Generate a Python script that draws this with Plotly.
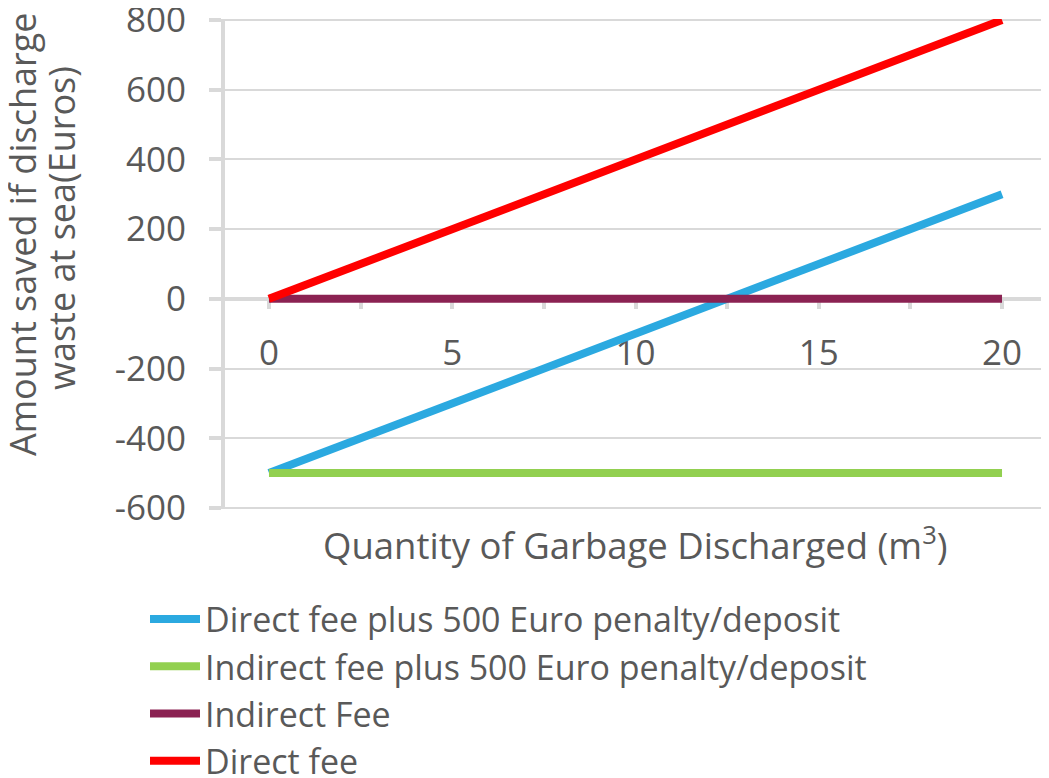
import plotly.graph_objects as go

# Data
quantity = [0, 20]
direct_fee_penalty = [-500, 300]
indirect_fee_penalty = [-500, -500]
indirect_fee = [0, 0]
direct_fee = [0, 800]

series_names = [
    "Direct fee plus 500 Euro penalty/deposit",
    "Indirect fee plus 500 Euro penalty/deposit",
    "Indirect Fee",
    "Direct fee",
]
series_values = [direct_fee_penalty, indirect_fee_penalty, indirect_fee, direct_fee]
series_colors = ["#2BA9E0", "#92D050", "#8B2252", "#FF0000"]

y_tick_values = [-600, -400, -200, 0, 200, 400, 600, 800]
y_tick_labels = ["-600", "-400", "-200", "0", "200", "400", "600", "800"]
x_tick_values = [0, 5, 10, 15, 20]
x_tick_labels = ["0", "5", "10", "15", "20"]

FONT = "Open Sans"
TXT = "#595959"
AX = "#D9D9D9"

W, H = 1041, 770
L, R, T, B = 217, 3, 11, 269
PW, PH = W - L - R, H - T - B


def px(xf):
    return (xf - L) / PW


def py(yf):
    return (H - B - yf) / PH


fig = go.Figure()
for name, vals, col in zip(series_names, series_values, series_colors):
    fig.add_trace(go.Scatter(x=quantity, y=vals, mode="lines", name=name, cliponaxis=False,
                             line=dict(color=col, width=8)))

fig.update_layout(
    width=W, height=H,
    paper_bgcolor="white", plot_bgcolor="white",
    margin=dict(l=L, r=R, t=T, b=B, autoexpand=False),
    font=dict(family=FONT, color=TXT, size=34),
    showlegend=True,
    legend=dict(orientation="v", x=px(137), xanchor="left", y=py(582.5), yanchor="top",
                font=dict(family=FONT, size=34, color=TXT),
                bgcolor="rgba(0,0,0,0)", tracegroupgap=0, itemwidth=50),
    xaxis=dict(range=[-1.2, 21.2], tickmode="array", tickvals=x_tick_values, ticktext=x_tick_labels,
               anchor="free", position=603/1406, layer="below traces",
               showline=True, linecolor=AX, linewidth=4, showgrid=False, zeroline=False,
               ticks="outside", ticklen=8, tickwidth=4, tickcolor=AX,
               minor=dict(dtick=2.5, tick0=0, ticks="outside", ticklen=8, tickwidth=4,
                          tickcolor=AX, showgrid=False),
               ticklabelstandoff=14, ticklabeloverflow="allow",
               tickfont=dict(family=FONT, size=35, color=TXT)),
    yaxis=dict(range=[-603, 803], tickmode="array", tickvals=y_tick_values, ticktext=y_tick_labels,
               layer="below traces",
               showline=True, linecolor=AX, linewidth=4, showgrid=True, gridcolor=AX, gridwidth=1.5,
               zeroline=False, ticks="outside", ticklen=12, tickwidth=4, tickcolor=AX,
               ticklabelstandoff=16, ticklabeloverflow="allow",
               tickfont=dict(family=FONT, size=35, color=TXT)),
    annotations=[
        dict(text="Amount saved if discharge", xref="paper", yref="paper",
             x=px(15), y=py(227), xanchor="center", yanchor="middle",
             textangle=-90, showarrow=False, font=dict(family=FONT, size=36, color=TXT)),
        dict(text="waste at sea(Euros)", xref="paper", yref="paper",
             x=px(53), y=py(220), xanchor="center", yanchor="middle",
             textangle=-90, showarrow=False, font=dict(family=FONT, size=36, color=TXT)),
        dict(text="Quantity of Garbage Discharged (m<sup>3</sup>)", xref="paper", yref="paper",
             x=px(627), y=py(535), xanchor="center", yanchor="middle",
             showarrow=False, font=dict(family=FONT, size=36.5, color=TXT)),
    ],
)

fig.write_html("out.html")
